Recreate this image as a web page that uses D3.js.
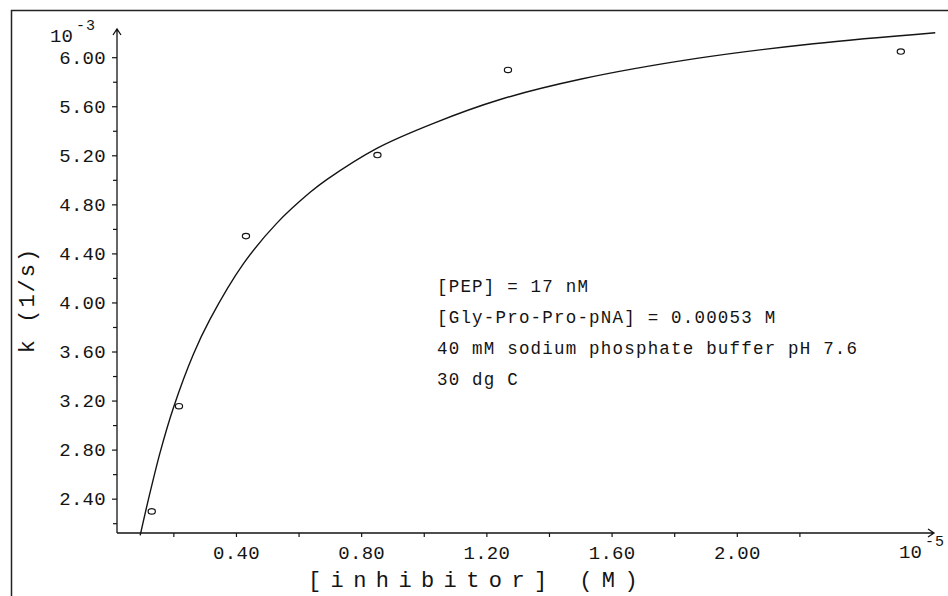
<!DOCTYPE html>
<html>
<head>
<meta charset="utf-8">
<script src="https://cdn.jsdelivr.net/npm/d3@7"></script>
<style>
  body{ margin:0; background:#fff; }
  svg text{ font-family:'Liberation Mono', 'DejaVu Sans Mono', monospace; fill:#141414; }
</style>
</head>
<body>
<div id="chart"></div>
<script>
// Measured points, inhibitor in 10^-5 M, k in 10^-3 1/s.
const inhibitor = [ 0.131, 0.218, 0.432, 0.852, 1.269, 2.524 ];
const rate      = [ 2.296, 3.154, 4.541, 5.202, 5.896, 6.046 ];

// Fitted curve.
const fitInhibitor = [ 0.094, 0.120, 0.158, 0.200, 0.264, 0.317, 0.424, 0.530, 0.637, 0.690, 0.850, 1.031, 1.244, 1.500, 1.872, 2.245, 2.634 ];
const fitRate      = [ 2.100, 2.390, 2.780, 3.140, 3.578, 3.862, 4.316, 4.645, 4.898, 5.002, 5.257, 5.461, 5.655, 5.820, 5.990, 6.110, 6.200 ];

// Axis ticks.
const yMajorTicks = [ 2.40, 2.80, 3.20, 3.60, 4.00, 4.40, 4.80, 5.20, 5.60, 6.00 ];
const yMinorTicks = [ 2.20, 2.60, 3.00, 3.40, 3.80, 4.20, 4.60, 5.00, 5.40, 5.80 ];
const xTicks      = [ 0.20, 0.40, 0.60, 0.80, 1.00, 1.20, 1.40, 1.60, 1.80, 2.00, 2.20 ];
const xLabelTicks = [ 0.40, 0.80, 1.20, 1.60, 2.00 ];

// Conditions written inside the plot.
const notes = [ '[PEP] = 17 nM', '[Gly-Pro-Pro-pNA] = 0.00053 M', '40 mM sodium phosphate buffer pH 7.6', '30 dg C' ];

const width = 948, height = 596;
const ink = '#141414';

const svg = d3.select( '#chart' )
  .append( 'svg' )
    .attr( 'width', width )
    .attr( 'height', height );

// Scanned page frame (left and top edges only).
svg.append( 'path' )
  .attr( 'd', 'M11.5,596 V10.5 H948' )
  .attr( 'fill', 'none' )
  .attr( 'stroke', '#222' )
  .attr( 'stroke-width', 1.5 );

const x = d3.scaleLinear().domain( [ 0.02, 2.63 ] ).range( [ 117, 934 ] );
const y = d3.scaleLinear().domain( [ 2.12, 6.23 ] ).range( [ 533, 29 ] );

// Y axis: major ticks with labels, then minor ticks.
svg.append( 'g' )
  .attr( 'transform', 'translate(' + x( 0.02 ) + ',0)' )
  .call( d3.axisLeft( y )
    .tickValues( yMajorTicks )
    .tickFormat( d3.format( '.2f' ) )
    .tickSize( 5 )
    .tickPadding( 6 ) );
svg.append( 'g' )
  .attr( 'transform', 'translate(' + x( 0.02 ) + ',0)' )
  .call( d3.axisLeft( y )
    .tickValues( yMinorTicks )
    .tickFormat( '' )
    .tickSize( 4 ) );

// X axis.
svg.append( 'g' )
  .attr( 'transform', 'translate(0,' + y( 2.12 ) + ')' )
  .call( d3.axisBottom( x )
    .tickValues( xTicks )
    .tickFormat( d => xLabelTicks.includes( d ) ? d3.format( '.2f' )( d ) : '' )
    .tickSize( 4 )
    .tickPadding( 9 ) );

svg.selectAll( '.domain' ).remove();
svg.selectAll( '.tick line' ).attr( 'stroke', ink ).attr( 'stroke-width', 1.2 );
svg.selectAll( '.tick text' )
  .attr( 'fill', ink )
  .attr( 'font-size', 19 )
  .attr( 'letter-spacing', 0.3 );
svg.selectAll( 'g' ).attr( 'font-family', null );

// Axis lines with arrow heads.
const x0 = x( 0.02 ), y0 = y( 2.12 ), xEnd = x( 2.63 ), yEnd = y( 6.23 );
svg.append( 'path' )
  .attr( 'd', 'M' + x0 + ',' + y0 + ' V' + yEnd + ' M' + ( x0 - 4 ) + ',' + ( yEnd + 6 ) + ' L' + x0 + ',' + yEnd + ' L' + ( x0 + 4 ) + ',' + ( yEnd + 6 ) )
  .attr( 'fill', 'none' )
  .attr( 'stroke', ink )
  .attr( 'stroke-width', 1.3 );
svg.append( 'path' )
  .attr( 'd', 'M' + x0 + ',' + y0 + ' H' + xEnd + ' M' + ( xEnd - 6 ) + ',' + ( y0 - 4 ) + ' L' + xEnd + ',' + y0 + ' L' + ( xEnd - 6 ) + ',' + ( y0 + 4 ) )
  .attr( 'fill', 'none' )
  .attr( 'stroke', ink )
  .attr( 'stroke-width', 1.3 );

// Fitted curve.
const fit = fitInhibitor.map( ( d, i ) => [ d, fitRate[ i ] ] );
svg.append( 'path' )
  .datum( fit )
  .attr( 'd', d3.line()
    .x( d => x( d[0] ) )
    .y( d => y( d[1] ) )
    .curve( d3.curveCatmullRom.alpha( 0.5 ) ) )
  .attr( 'fill', 'none' )
  .attr( 'stroke', ink )
  .attr( 'stroke-width', 1.4 );

// Data points, open circles.
const points = inhibitor.map( ( d, i ) => [ d, rate[ i ] ] );
svg.append( 'g' )
  .selectAll( 'ellipse' )
  .data( points )
  .enter()
  .append( 'ellipse' )
    .attr( 'cx', d => x( d[0] ) )
    .attr( 'cy', d => y( d[1] ) )
    .attr( 'rx', 3.6 )
    .attr( 'ry', 2.7 )
    .attr( 'fill', '#fff' )
    .attr( 'stroke', ink )
    .attr( 'stroke-width', 1.2 );

// Scale factors at the axis ends.
function powerLabel( px, py, base, exp ){
  svg.append( 'text' )
    .attr( 'x', px ).attr( 'y', py )
    .attr( 'dominant-baseline', 'central' )
    .attr( 'font-size', 19 )
    .attr( 'letter-spacing', 0 )
    .text( base );
  svg.append( 'text' )
    .attr( 'x', px + 26 ).attr( 'y', py - 11 )
    .attr( 'dominant-baseline', 'central' )
    .attr( 'font-size', 15 )
    .attr( 'letter-spacing', 1 )
    .text( exp );
}
powerLabel( 50, 37, '10', '-3' );
powerLabel( 899, 553, '10', '-5' );

// Notes inside the plot.
svg.append( 'g' )
  .selectAll( 'text' )
  .data( notes )
  .enter()
  .append( 'text' )
    .attr( 'x', 437 )
    .attr( 'y', ( d, i ) => 287 + i * 31 )
    .attr( 'dominant-baseline', 'central' )
    .attr( 'font-size', 17.5 )
    .attr( 'letter-spacing', 1.2 )
    .text( d => d );

// Axis titles.
svg.append( 'text' )
  .attr( 'x', 308 )
  .attr( 'y', 581 )
  .attr( 'dominant-baseline', 'central' )
  .attr( 'font-size', 22 )
  .attr( 'letter-spacing', 9.4 )
  .text( '[inhibitor] (M)' );

svg.append( 'text' )
  .attr( 'transform', 'translate(28,300) rotate(-90)' )
  .attr( 'text-anchor', 'middle' )
  .attr( 'dominant-baseline', 'central' )
  .attr( 'font-size', 22 )
  .attr( 'letter-spacing', 2 )
  .text( 'k (1/s)' );
</script>
</body>
</html>
